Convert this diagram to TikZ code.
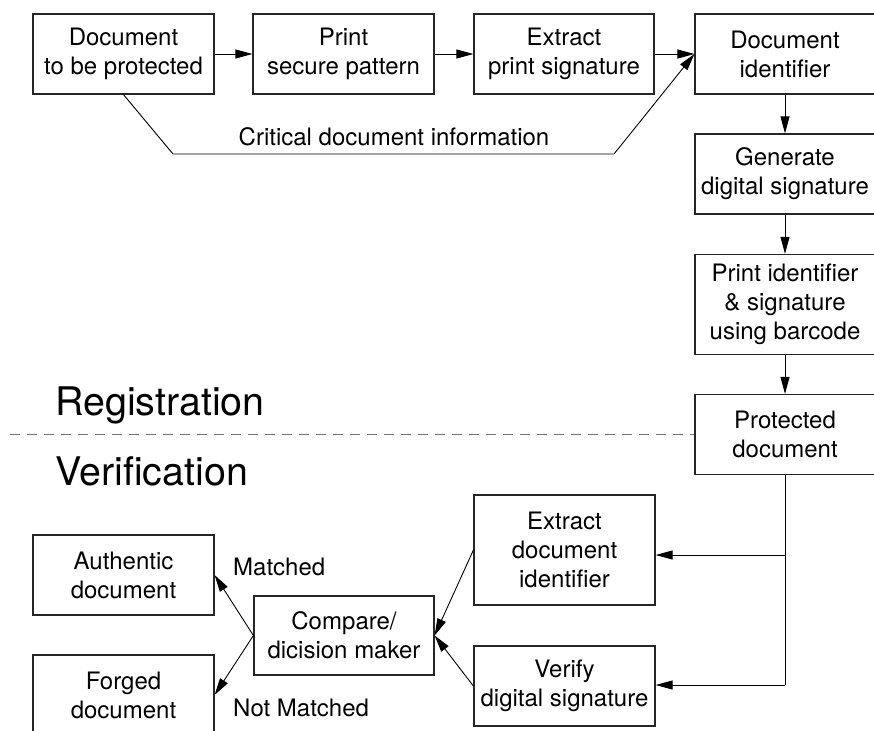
\documentclass[tikz,border=0pt]{standalone}
\usepackage{fontspec}
\setmainfont{TeX Gyre Heros}
\usetikzlibrary{arrows.meta}
\begin{document}
\begin{tikzpicture}[x=1bp,y=-1bp,
  box/.style={draw=black!85, line width=1.2bp, rectangle, inner sep=0pt,
    align=center, minimum width=181bp, minimum height=80bp,
    font=\fontsize{24bp}{29bp}\selectfont},
  flow/.style={line width=0.9bp, -{Triangle[length=17bp,width=9bp]}},
  wire/.style={line width=0.9bp},
  lbl/.style={font=\fontsize{24bp}{29bp}\selectfont, inner sep=0pt, anchor=base west},
  phase/.style={font=\fontsize{39.4bp}{44bp}\selectfont, inner sep=0pt, anchor=base west}]
\useasboundingbox (0,0) rectangle (874,731);
\clip (0,0) rectangle (874,731);

% registration chain
\node[box] (doc)    at (123.5,54) {Document\\to be protected};
\node[box] (print)  at (343.5,54) {Print\\secure pattern};
\node[box, minimum width=180bp] (extsig) at (564,54) {Extract\\print signature};
\node[box, minimum width=180bp] (docid)  at (785,54) {Document\\identifier};
\node[box, minimum width=180bp] (gen)    at (785,174) {Generate\\digital signature};
\node[box, minimum width=180bp, minimum height=100bp] (printid) at (785,304.5) {Print identifier\\\& signature\\using barcode};
\node[box, minimum width=180bp] (prot)   at (785,434.5) {Protected\\document};

% verification side
\node[box, minimum height=110bp] (extid) at (564.5,550) {Extract\\document\\identifier};
\node[box] (verify)  at (564.5,686) {Verify\\digital signature};
\node[box, minimum width=180bp, minimum height=79bp] (compare) at (344,635.5) {Compare/\\dicision maker};
\node[box] (auth)    at (123.5,575) {Authentic\\document};
\node[box] (forged)  at (123.5,695) {Forged\\document};

% phase labels and separator
\node[phase] (reg) at (55,415) {Registration};
\node[phase] (ver) at (55,485) {Verification};
\coordinate (sepL) at (10,434.5);
\draw[black!55, line width=1bp, dash pattern=on 10bp off 7bp] (sepL) -- (prot.west);

% top row
\draw[flow] (doc.east) -- (print.west);
\draw[flow] (print.east) -- (extsig.west);
\draw[flow] (extsig.east) -- (docid.west);

% critical information bypass
\coordinate (c1) at (173,154);
\coordinate (c2) at (614,154);
\draw[flow] (doc.south) -- (c1) -- (c2) -- (docid.west);
\node[font=\fontsize{24bp}{29bp}\selectfont, inner sep=0pt, anchor=base] (crit) at (394,146) {Critical document information};

% right column
\draw[flow] (docid.south) -- (gen.north);
\draw[flow] (gen.south) -- (printid.north);
\draw[flow] (printid.south) -- (prot.north);

% split to the two checks
\coordinate (j1) at (785,555);
\coordinate (j2) at (785,685);
\draw[wire] (prot.south) -- (j2);
\draw[flow] (j1) -- (j1 -| extid.east);
\draw[flow] (j2) -- (j2 -| verify.east);

% into the comparator
\draw[flow] (extid.west) -- (compare.east);
\draw[flow] (verify.west) -- (compare.east);

% decisions
\draw[flow] (compare.west) -- (auth.east);
\draw[flow] (compare.west) -- (forged.east);
\node[lbl] (m)  at (233,575) {Matched};
\node[lbl] (nm) at (233,716) {Not Matched};
\end{tikzpicture}
\end{document}
